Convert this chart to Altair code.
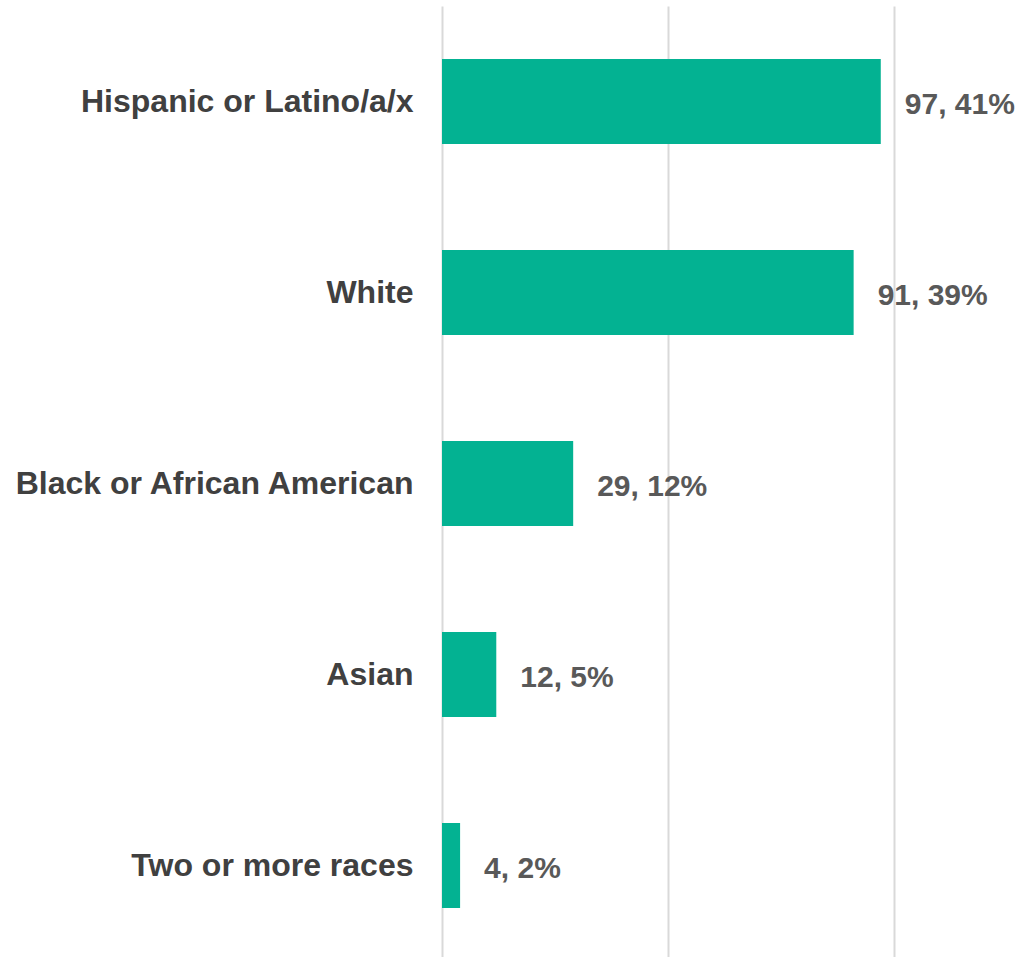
import altair as alt
import pandas as pd

categories = ["Hispanic or Latino/a/x", "White", "Black or African American", "Asian", "Two or more races"]
counts = [97, 91, 29, 12, 4]
percents = ["41%", "39%", "12%", "5%", "2%"]

df = pd.DataFrame({
    "cat": categories,
    "n": counts,
    "label": [f"{c}, {p}" for c, p in zip(counts, percents)],
})

y = alt.Y("cat:N", sort=categories, title=None,
          scale=alt.Scale(paddingInner=0.555, paddingOuter=0.2775),
          axis=alt.Axis(labelFont="Liberation Sans", labelFontWeight="bold",
                        labelFontSize=32, labelColor="#404040", labelPadding=29,
                        ticks=False, domain=False, labelLimit=500))
x = alt.X("n:Q", title=None, scale=alt.Scale(domain=[0, 128], nice=False),
          axis=alt.Axis(values=[0, 50, 100], labels=False, ticks=False, domain=False,
                        grid=True, gridColor="#d9d9d9", gridWidth=2))

bars = alt.Chart(df).mark_bar(color="#03B292").encode(x=x, y=y)
text = alt.Chart(df).mark_text(align="left", baseline="middle", dx=24, dy=3,
                               font="Liberation Sans", fontWeight="bold",
                               fontSize=30, color="#595959").encode(
    x="n:Q", y=alt.Y("cat:N", sort=categories), text="label:N")

chart = (bars + text).properties(
    width=579, height=955,
    autosize=alt.AutoSizeParams(type="none"),
    padding={"left": 442, "top": 6, "right": 0, "bottom": 0},
).configure_view(stroke=None)

chart.save("out.html", embed_options={"renderer": "svg", "actions": False})
